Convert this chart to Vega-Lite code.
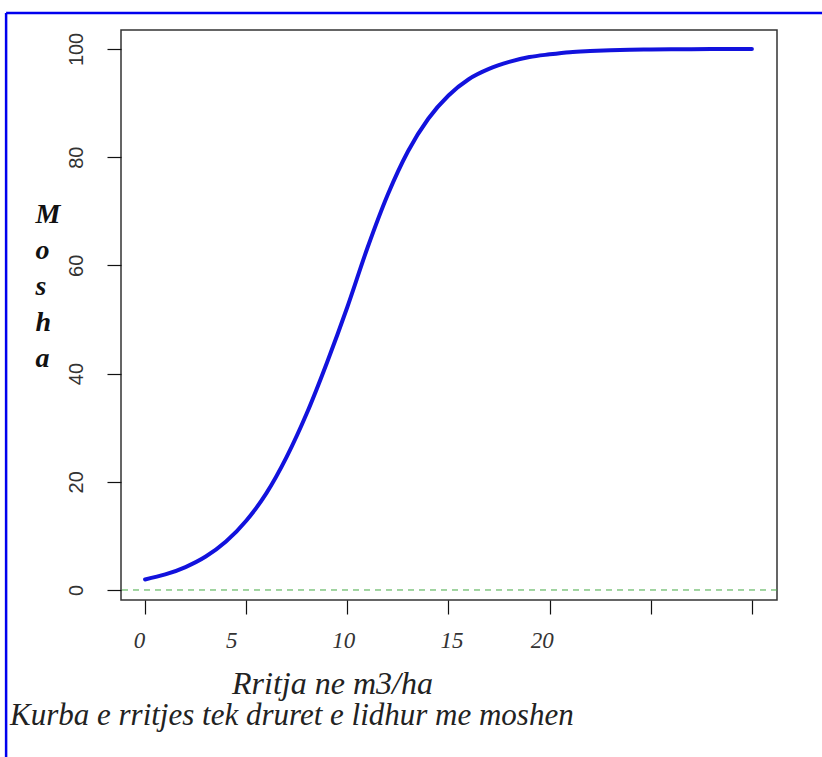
{
  "$schema": "https://vega.github.io/schema/vega-lite/v6.json",
  "autosize": {"type": "none"},
  "padding": {"left": 121, "top": 30, "right": 45, "bottom": 157},
  "width": 656,
  "height": 570,
  "background": "white",
  "config": {"view": {"stroke": "#333", "strokeWidth": 1.5}},
  "title": {
    "text": "Kurba e rritjes tek druret e lidhur me moshen",
    "orient": "bottom",
    "anchor": "start",
    "frame": "group",
    "dx": -111,
    "dy": -66,
    "offset": 3,
    "baseline": "top",
    "font": "Liberation Serif",
    "fontStyle": "italic",
    "fontWeight": "normal",
    "fontSize": 31,
    "color": "#222"
  },
  "data": {"values": [{}]},
  "datasets": {
    "curve": [
      {"x": 0, "y": 1.95}, {"x": 1, "y": 2.87}, {"x": 2, "y": 4.24}, {"x": 3, "y": 6.18},
      {"x": 4, "y": 8.95}, {"x": 5, "y": 12.8}, {"x": 6, "y": 17.9}, {"x": 7, "y": 24.6},
      {"x": 8, "y": 32.7}, {"x": 9, "y": 42.1}, {"x": 10, "y": 52.3}, {"x": 11, "y": 63.3},
      {"x": 12, "y": 73.1}, {"x": 13, "y": 81.1}, {"x": 14, "y": 87.1}, {"x": 15, "y": 91.4},
      {"x": 16, "y": 94.4}, {"x": 17, "y": 96.3}, {"x": 18, "y": 97.6}, {"x": 19, "y": 98.5},
      {"x": 20, "y": 99.0}, {"x": 21, "y": 99.4}, {"x": 22, "y": 99.6}, {"x": 23, "y": 99.75},
      {"x": 24, "y": 99.84}, {"x": 25, "y": 99.9}, {"x": 26, "y": 99.94}, {"x": 27, "y": 99.96},
      {"x": 28, "y": 99.97}, {"x": 29, "y": 99.98}, {"x": 30, "y": 99.99}
    ]
  },
  "layer": [
    {
      "data": {"name": "curve"},
      "mark": {"type": "line", "color": "#1212dd", "strokeWidth": 4, "strokeCap": "round", "interpolate": "monotone"},
      "encoding": {
        "x": {
          "field": "x", "type": "quantitative",
          "scale": {"domain": [-1.19, 31.24], "nice": false, "zero": false},
          "axis": {
            "values": [0, 5, 10, 15, 20, 25, 30],
            "domain": false, "grid": false,
            "tickSize": 14, "tickColor": "#111", "tickWidth": 1.2,
            "labelFont": "Liberation Serif", "labelFontStyle": "italic", "labelFontSize": 23,
            "labelColor": "#333", "labelBaseline": "alphabetic", "labelPadding": 33,
            "labelOverlap": false,
            "labelExpr": "datum.value <= 20 ? datum.label : ''",
            "labelOffset": {
              "condition": [
                {"test": "datum.value === 0", "value": -6},
                {"test": "datum.value === 5", "value": -15},
                {"test": "datum.value === 10", "value": -4},
                {"test": "datum.value === 15", "value": 3},
                {"test": "datum.value === 20", "value": -8}
              ],
              "value": 0
            },
            "title": "Rritja ne m3/ha",
            "titleFont": "Liberation Serif", "titleFontStyle": "italic", "titleFontWeight": "normal",
            "titleFontSize": 32, "titleColor": "#222",
            "titleX": 211, "titleY": 93, "titleAlign": "center", "titleBaseline": "alphabetic"
          }
        },
        "y": {
          "field": "y", "type": "quantitative",
          "scale": {"domain": [-1.85, 103.5], "nice": false, "zero": false},
          "axis": {
            "values": [0, 20, 40, 60, 80, 100],
            "domain": false, "grid": false,
            "tickSize": 14, "tickColor": "#111", "tickWidth": 1.2,
            "labelFont": "Liberation Sans", "labelFontSize": 20, "labelColor": "#333",
            "labelAngle": 270, "labelAlign": "center", "labelBaseline": "alphabetic", "labelPadding": 25,
            "title": ["M", "o", "s", "h", "a"],
            "titleFont": "Liberation Serif", "titleFontStyle": "italic", "titleFontWeight": "bold",
            "titleFontSize": 28, "titleColor": "#111", "titleAngle": 0,
            "titleAlign": "left", "titleBaseline": "top", "titleLineHeight": 36,
            "titleX": -86, "titleY": 170
          }
        }
      }
    },
    {
      "mark": {"type": "rule", "color": "#44aa44", "strokeDash": [6, 5], "strokeWidth": 1},
      "encoding": {
        "y": {"datum": 0, "type": "quantitative"}
      }
    },
    {
      "mark": {"type": "rule", "color": "#0000ee", "strokeWidth": 2.5},
      "encoding": {
        "x": {"datum": -6.87, "type": "quantitative"},
        "y": {"datum": 106.65, "type": "quantitative"},
        "y2": {"datum": -32}
      }
    },
    {
      "mark": {"type": "rule", "color": "#0000ee", "strokeWidth": 2.5},
      "encoding": {
        "x": {"datum": -6.87, "type": "quantitative"},
        "x2": {"datum": 34},
        "y": {"datum": 106.65, "type": "quantitative"}
      }
    }
  ]
}
